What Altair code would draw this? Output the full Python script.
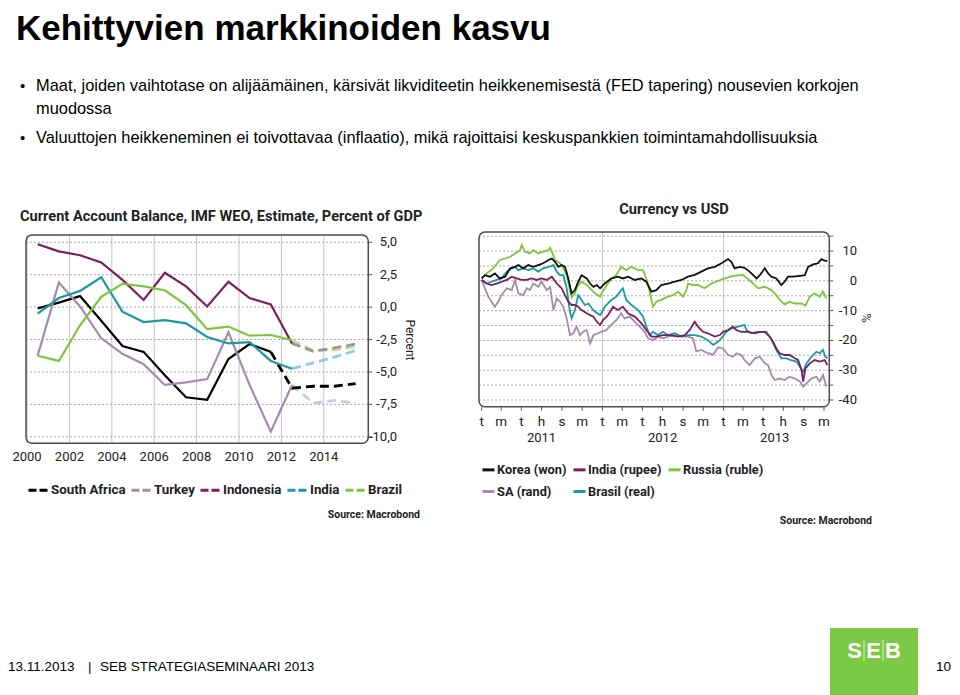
import altair as alt
import pandas as pd

# ---------------- slide texts ----------------
slide_title = "Kehittyvien markkinoiden kasvu"
bullet_1a = "Maat, joiden vaihtotase on alijäämäinen, kärsivät likviditeetin heikkenemisestä (FED tapering) nousevien korkojen"
bullet_1b = "muodossa"
bullet_2 = "Valuuttojen heikkeneminen ei toivottavaa (inflaatio), mikä rajoittaisi keskuspankkien toimintamahdollisuuksia"
footer_date = "13.11.2013"
footer_event = "SEB STRATEGIASEMINAARI 2013"
page_number = "10"

# ---------------- left chart data ----------------
ca_title = "Current Account Balance, IMF WEO, Estimate, Percent of GDP"
ca_countries = ["South Africa", "Turkey", "Indonesia", "India", "Brazil"]
ca_colors = ["#000000", "#a48bac", "#7b1f5e", "#1c97a6", "#7cc63a"]
ca_fc_colors = ["#000000", "#d5c8db", "#a98ea3", "#8ccfdc", "#bde38f"]
ca_years = [2000.5, 2001.5, 2002.5, 2003.5, 2004.5, 2005.5, 2006.5,
            2007.5, 2008.5, 2009.5, 2010.5, 2011.5, 2012.5]
ca_actual = {
    "South Africa": [-0.1, 0.35, 0.85, -1.05, -3.0, -3.45, -5.25, -6.95, -7.15, -4.0, -2.85, -3.45],
    "Turkey": [-3.75, 1.9, 0.05, -2.4, -3.6, -4.4, -6.0, -5.8, -5.55, -1.95, -6.0, -9.6, -6.0],
    "Indonesia": [4.85, 4.3, 4.0, 3.45, 2.1, 0.55, 2.65, 1.6, 0.05, 1.95, 0.7, 0.2, -2.8],
    "India": [-0.5, 0.7, 1.25, 2.3, -0.35, -1.15, -1.0, -1.25, -2.3, -2.8, -2.7, -4.15, -4.75],
    "Brazil": [-3.75, -4.15, -1.4, 0.8, 1.8, 1.6, 1.3, 0.15, -1.7, -1.5, -2.2, -2.15, -2.55],
}
ca_fc_years = {
    "South Africa": [2011.5, 2012.5, 2013.5, 2014.5, 2015.5],
    "Turkey": [2012.5, 2013.5, 2014.5, 2015.5],
    "Indonesia": [2012.5, 2013.5, 2014.5, 2015.5],
    "India": [2012.5, 2013.5, 2014.5, 2015.5],
    "Brazil": [2012.5, 2013.5, 2014.5, 2015.5],
}
ca_forecast = {
    "South Africa": [-3.45, -6.25, -6.1, -6.1, -5.9],
    "Turkey": [-6.0, -7.4, -7.2, -7.4],
    "Indonesia": [-2.8, -3.4, -3.15, -2.85],
    "India": [-4.75, -4.3, -3.85, -3.35],
    "Brazil": [-2.55, -3.35, -3.3, -3.05],
}
ca_ticks_x = [2000, 2002, 2004, 2006, 2008, 2010, 2012, 2014]
ca_ticks_x_labels = ["2000", "2002", "2004", "2006", "2008", "2010", "2012", "2014"]
ca_ticks_y = [-10, -7.5, -5, -2.5, 0, 2.5, 5]
ca_ticks_y_labels = ["-10,0", "-7,5", "-5,0", "-2,5", "0,0", "2,5", "5,0"]
ca_axis_title = "Percent"

# ---------------- right chart data ----------------
fx_title = "Currency vs USD"
fx_series = ["Korea (won)", "India (rupee)", "Russia (ruble)", "SA (rand)", "Brasil (real)"]
fx_colors = ["#111111", "#7b1f5e", "#7cc63a", "#a48bac", "#1c97a6"]
fx_start = "2011-01-01"  # day offsets below count from this date
korea = [(0,0.8),(10,1.9),(25,1.4),(40,2.5),(55,0.8),(71,1.4),(86,4.2),(101,4.7),(111,5.3),(126,4.2),(141,5.3),(156,4.7),(171,5.3),(186,5.9),(202,7.0),(212,7.5),(222,6.4),(232,4.7),(242,5.3),(252,4.7),(262,0.8),(272,-4.2),(282,-3.1),(292,-0.3),(302,1.9),(318,0.8),(328,-0.9),(338,-2.0),(348,-1.4),(358,-2.5),(372,-0.9),(392,0.8),(412,1.4),(427,0.8),(443,1.4),(463,0.3),(483,0.8),(498,-0.3),(513,-3.6),(528,-3.1),(543,-1.4),(563,-0.9),(584,-0.3),(604,0.3),(624,1.4),(644,2.0),(664,3.1),(684,4.2),(705,4.7),(725,5.9),(745,7.3),(755,6.4),(765,4.2),(780,4.7),(795,4.4),(810,3.1),(821,1.9),(831,0.8),(841,1.9),(856,4.2),(866,2.5),(876,1.4),(891,0.8),(906,-1.4),(916,-0.3),(926,1.4),(941,1.4),(962,1.7),(977,1.9),(987,4.7),(1002,5.5),(1017,5.9),(1027,7.3),(1037,6.8),(1045,6.6)]
russia = [(0,0.8),(15,2.5),(35,4.2),(55,7.0),(71,7.5),(86,8.1),(101,9.2),(116,10.3),(121,12.0),(131,9.8),(146,9.2),(156,10.3),(171,9.2),(186,9.8),(202,10.3),(207,11.1),(214,9.2),(222,7.0),(237,5.9),(247,4.2),(257,1.9),(267,-3.1),(272,-5.5),(282,-4.2),(292,-1.4),(302,-0.3),(318,-1.4),(333,-3.1),(343,-4.2),(358,-5.3),(362,-4.2),(372,-2.5),(392,0.8),(407,2.0),(422,4.7),(437,3.6),(453,4.7),(473,3.6),(488,3.6),(498,0.8),(508,-3.6),(518,-8.7),(528,-7.0),(543,-6.4),(563,-5.3),(579,-4.8),(594,-3.6),(609,-5.3),(619,-3.1),(624,-0.9),(639,-1.4),(654,-1.4),(674,-2.5),(695,-0.9),(715,0.0),(735,0.8),(760,1.7),(790,2.0),(815,-0.3),(836,-2.5),(856,-2.0),(876,-3.1),(891,-4.8),(901,-6.4),(916,-7.9),(931,-7.0),(947,-7.6),(967,-7.6),(979,-8.3),(992,-5.3),(1007,-4.2),(1022,-5.3),(1032,-3.6),(1042,-5.9)]
india = [(0,0.3),(15,-0.9),(30,-1.4),(45,-0.9),(60,-0.3),(76,0.3),(91,1.4),(106,0.8),(121,0.3),(136,0.3),(151,0.8),(166,0.3),(181,0.8),(197,0.3),(212,1.4),(227,-0.9),(242,-2.5),(252,-4.8),(262,-7.0),(272,-8.1),(282,-8.1),(292,-8.7),(302,-9.8),(318,-10.9),(328,-11.5),(338,-12.0),(348,-13.7),(358,-14.8),(367,-13.2),(382,-11.5),(397,-8.7),(412,-9.8),(427,-8.7),(443,-11.0),(463,-12.0),(483,-14.3),(498,-16.5),(513,-18.7),(528,-18.7),(548,-18.2),(569,-18.2),(594,-18.7),(614,-18.2),(629,-16.5),(644,-13.7),(654,-15.4),(669,-17.1),(684,-17.6),(705,-18.7),(720,-18.2),(730,-17.1),(745,-16.5),(760,-15.4),(770,-16.5),(785,-17.1),(805,-17.1),(826,-17.6),(841,-17.1),(856,-17.1),(871,-18.7),(881,-20.4),(891,-22.7),(901,-24.3),(916,-24.9),(931,-24.9),(947,-26.0),(957,-26.6),(967,-29.9),(972,-33.8),(979,-29.4),(992,-27.7),(1007,-26.6),(1022,-27.1),(1037,-26.6),(1045,-28.3)]
safrica = [(0,0.3),(10,-2.5),(20,-5.3),(30,-7.0),(40,-8.7),(50,-7.0),(60,-4.8),(76,-2.5),(91,-3.1),(101,0.3),(111,-4.2),(126,-4.8),(136,-2.5),(146,-3.1),(156,-0.9),(171,-2.0),(181,-0.3),(197,-3.1),(207,-2.0),(217,-9.8),(227,-5.9),(237,-7.0),(247,-8.7),(257,-12.6),(267,-18.2),(277,-17.6),(287,-15.4),(297,-18.2),(307,-17.1),(318,-16.5),(328,-21.0),(338,-18.2),(353,-17.6),(362,-17.1),(377,-16.5),(392,-14.8),(407,-13.2),(422,-10.9),(432,-12.6),(448,-12.0),(463,-13.7),(478,-15.4),(493,-17.1),(503,-19.3),(518,-19.9),(533,-18.7),(548,-19.3),(563,-18.7),(584,-18.2),(604,-18.7),(624,-18.7),(639,-19.3),(649,-23.7),(664,-23.2),(684,-24.3),(700,-24.8),(715,-22.3),(730,-22.7),(745,-24.9),(760,-25.5),(770,-24.3),(785,-24.9),(795,-26.6),(810,-28.3),(826,-26.0),(841,-25.5),(856,-27.7),(866,-28.3),(876,-31.6),(886,-33.3),(901,-32.8),(916,-33.3),(931,-32.2),(947,-32.8),(962,-33.8),(972,-35.5),(982,-34.4),(997,-32.8),(1012,-32.2),(1022,-33.8),(1032,-31.6),(1042,-35.5)]
brasil = [(0,0.3),(15,-0.9),(30,-0.3),(45,0.3),(60,0.8),(76,3.1),(91,4.2),(101,4.7),(111,3.6),(126,4.2),(141,3.6),(156,4.2),(171,3.1),(186,4.2),(202,4.7),(217,5.3),(227,3.1),(237,1.9),(247,1.9),(257,-2.5),(267,-10.4),(272,-12.6),(282,-9.8),(292,-4.8),(302,-6.4),(312,-8.1),(323,-7.6),(333,-9.2),(343,-10.4),(358,-11.5),(362,-10.9),(372,-8.7),(392,-6.4),(407,-5.3),(422,-3.1),(427,-2.5),(437,-6.4),(453,-8.1),(473,-9.8),(488,-12.0),(498,-15.4),(508,-18.2),(518,-17.1),(533,-18.2),(548,-17.1),(563,-18.2),(584,-17.6),(604,-18.7),(624,-18.2),(644,-18.2),(664,-18.7),(684,-19.9),(700,-21.5),(715,-20.4),(725,-19.3),(740,-17.1),(755,-16.0),(775,-15.4),(795,-14.8),(800,-16.5),(815,-17.6),(831,-17.1),(846,-17.1),(861,-17.1),(876,-19.9),(891,-23.2),(906,-26.0),(921,-26.0),(936,-26.6),(952,-27.1),(962,-28.8),(972,-30.5),(982,-27.7),(997,-25.5),(1012,-23.8),(1022,-24.3),(1032,-23.2),(1039,-25.5),(1045,-26.0)]
fx_year_dates = ["2011-07-01", "2012-07-01", "2013-06-05"]
fx_year_labels = ["2011", "2012", "2013"]
fx_year_breaks = ["2012-01-01", "2013-01-01"]
fx_tick_dates = ["2011-01-01", "2011-03-01", "2011-05-01", "2011-07-01", "2011-09-01", "2011-11-01",
                 "2012-01-01", "2012-03-01", "2012-05-01", "2012-07-01", "2012-09-01", "2012-11-01",
                 "2013-01-01", "2013-03-01", "2013-05-01", "2013-07-01", "2013-09-01", "2013-11-01"]
fx_tick_labels = ["t", "m", "t", "h", "s", "m"] * 3
fx_grid_y = [-40, -35, -30, -25, -20, -15, -10, -5, 0, 5, 10, 15]
fx_label_y = [-40, -30, -20, -10, 0, 10]
fx_label_y_text = ["-40", "-30", "-20", "-10", "0", "10"]
fx_axis_title = "%"
source_text = "Source: Macrobond"

# ---------------- build tables ----------------
rows = []
for c in ca_countries:
    for yr, v in zip(ca_years, ca_actual[c]):
        rows.append({"country": c, "year": yr, "value": v})
ca_df = pd.DataFrame(rows)

base = pd.Timestamp(fx_start)
rows = []
for name, series in [("SA (rand)", safrica), ("Brasil (real)", brasil), ("India (rupee)", india),
                     ("Russia (ruble)", russia), ("Korea (won)", korea)]:
    for d, v in series:
        rows.append({"series": name, "date": (base + pd.Timedelta(days=d)).strftime("%Y-%m-%d"), "value": v})
fx_df = pd.DataFrame(rows)

# ---------------- styling ----------------
FA = "Liberation Sans, Arial, sans-serif"
FC = "Roboto, Liberation Sans, sans-serif"
W, H = 944, 687
INK = "#222222"


def txt(s, x, y, size, weight="normal", font=FA, align="left", baseline="alphabetic", color="#000000", angle=0):
    return alt.Chart(pd.DataFrame({"t": [s]})).mark_text(
        align=align, baseline=baseline, fontSize=size, fontWeight=weight, font=font,
        color=color, angle=angle).encode(text="t:N", x=alt.value(x), y=alt.value(y))


# ---------------- left chart ----------------
LXD = [1999.95, 2016.1]
LYD = [-10.5, 5.56]
LX = alt.Scale(domain=LXD, range=[18, 360.3], nice=False, zero=False)
LY = alt.Scale(domain=LYD, range=[435.3, 227], nice=False, zero=False)
L_RIGHT, L_BOTTOM = 360.3, 435.3


def lx(field):
    return alt.X(field, type="quantitative", scale=LX, axis=None)


def ly(field):
    return alt.Y(field, type="quantitative", scale=LY, axis=None)


ygrid_df = pd.DataFrame({"v": ca_ticks_y, "label": ca_ticks_y_labels})
xgrid_df = pd.DataFrame({"v": ca_ticks_x, "label": ca_ticks_x_labels})

left_vgrid = alt.Chart(xgrid_df).mark_rule(color="#c4c4c4", strokeWidth=1).encode(
    x=lx("v"), y=alt.YDatum(LYD[0], type="quantitative", scale=LY, axis=None), y2=alt.Y2Datum(LYD[1]))
left_hgrid = alt.Chart(ygrid_df).mark_rule(color="#aaaaaa", strokeWidth=1, strokeDash=[2, 2]).encode(
    y=ly("v"), x=alt.XDatum(LXD[0], type="quantitative", scale=LX, axis=None), x2=alt.X2Datum(LXD[1]))
left_yticks = alt.Chart(ygrid_df).mark_rule(color="#555555", strokeWidth=1).encode(
    y=ly("v"), x=alt.value(L_RIGHT), x2=alt.value(L_RIGHT + 4))
left_ylabels = alt.Chart(ygrid_df).mark_text(align="right", baseline="middle", fontSize=13, font=FC, color=INK).encode(
    y=ly("v"), x=alt.value(389), text="label:N")
left_xlabels = alt.Chart(xgrid_df).mark_text(align="center", baseline="middle", fontSize=13, font=FC, color=INK).encode(
    x=lx("v"), y=alt.value(449), text="label:N")

left_lines = alt.Chart(ca_df).mark_line(strokeWidth=2.2).encode(
    x=lx("year"), y=ly("value"),
    color=alt.Color("country:N", scale=alt.Scale(domain=ca_countries, range=ca_colors),
                    legend=alt.Legend(orient="none", legendX=19, legendY=470, direction="horizontal",
                                      columns=5, title=None, symbolType="stroke", symbolDash=[8, 3],
                                      symbolSize=441, symbolStrokeWidth=3, labelFontSize=13.3,
                                      labelFontWeight="bold", labelFont=FC, labelColor=INK,
                                      columnPadding=-1, labelOffset=0)),
)
left_fc = []
for c, col in zip(ca_countries, ca_fc_colors):
    d = pd.DataFrame({"year": ca_fc_years[c], "value": ca_forecast[c]})
    left_fc.append(alt.Chart(d).mark_line(strokeWidth=2.8, strokeDash=[9, 5], color=col).encode(
        x=lx("year"), y=ly("value")))
left_frame = alt.Chart(pd.DataFrame({"f": [0]})).mark_rect(
    fillOpacity=0, stroke="#4d4d4d", strokeWidth=1.5, cornerRadius=6).encode(
    x=alt.XDatum(LXD[0], type="quantitative", scale=LX, axis=None),
    x2=alt.X2Datum(LXD[1]),
    y=alt.YDatum(LYD[1], type="quantitative", scale=LY, axis=None),
    y2=alt.Y2Datum(LYD[0]),
)
left = alt.layer(left_vgrid, left_hgrid, *left_fc[::-1], left_lines, left_frame,
                 left_yticks, left_ylabels, left_xlabels)

# ---------------- right chart ----------------
RXD = [alt.DateTime(year=2010, month=12, date=24), alt.DateTime(year=2013, month=11, date=17)]
RYD = [-42.25, 16.4]
RX = alt.Scale(domain=RXD, range=[471, 821.3], nice=False)
RY = alt.Scale(domain=RYD, range=[398.7, 224], nice=False, zero=False)
R_RIGHT, R_BOTTOM = 821.3, 398.7


def rx(field):
    return alt.X(field, type="temporal", scale=RX, axis=None)


def ry(field):
    return alt.Y(field, type="quantitative", scale=RY, axis=None)


fx_grid_df = pd.DataFrame({"v": fx_grid_y})
fx_lab_df = pd.DataFrame({"v": fx_label_y, "label": fx_label_y_text})
fx_tick_df = pd.DataFrame({"date": fx_tick_dates, "label": fx_tick_labels})

fx_hgrid = alt.Chart(fx_grid_df).mark_rule(color="#aaaaaa", strokeWidth=1, strokeDash=[2, 2]).encode(
    y=ry("v"), x=alt.XDatum(RXD[0], type="temporal", scale=RX, axis=None), x2=alt.X2Datum(RXD[1]))
fx_breaks = alt.Chart(pd.DataFrame({"date": fx_year_breaks})).mark_rule(color="#c4c4c4", strokeWidth=1).encode(
    x=rx("date"), y=alt.YDatum(RYD[1], type="quantitative", scale=RY, axis=None), y2=alt.Y2Datum(RYD[0]))
fx_yticks = alt.Chart(fx_grid_df).mark_rule(color="#555555", strokeWidth=1).encode(
    y=ry("v"), x=alt.value(R_RIGHT), x2=alt.value(R_RIGHT + 4))
fx_ylabels = alt.Chart(fx_lab_df).mark_text(align="right", baseline="middle", fontSize=13, font=FC, color=INK).encode(
    y=ry("v"), x=alt.value(849), text="label:N")
fx_xticks = alt.Chart(fx_tick_df).mark_rule(color="#555555", strokeWidth=1).encode(
    x=rx("date"), y=alt.value(R_BOTTOM), y2=alt.value(R_BOTTOM + 4))
fx_xlabels = alt.Chart(fx_tick_df).mark_text(align="center", baseline="middle", fontSize=13.5, font=FC, color=INK).encode(
    x=rx("date"), y=alt.value(414), text="label:N")
fx_years = alt.Chart(pd.DataFrame({"date": fx_year_dates, "label": fx_year_labels})).mark_text(
    fontSize=13, font=FC, baseline="middle", color=INK).encode(
    x=rx("date"), y=alt.value(430), text="label:N")

fx_lines = alt.Chart(fx_df).mark_line(strokeWidth=1.8).encode(
    x=rx("date"), y=ry("value"),
    color=alt.Color("series:N", scale=alt.Scale(domain=fx_series, range=fx_colors),
                    legend=alt.Legend(orient="none", legendX=473, legendY=454, direction="horizontal",
                                      columns=3, title=None, symbolType="stroke", symbolSize=144,
                                      symbolStrokeWidth=3, labelFontSize=12.8, labelFontWeight="bold",
                                      labelFont=FC, labelColor=INK,
                                      columnPadding=0, rowPadding=7, labelOffset=1)),
)
right_frame = alt.Chart(pd.DataFrame({"f": [0]})).mark_rect(
    fillOpacity=0, stroke="#4d4d4d", strokeWidth=1.5, cornerRadius=6).encode(
    x=alt.XDatum(RXD[0], type="temporal", scale=RX, axis=None),
    x2=alt.X2Datum(RXD[1]),
    y=alt.YDatum(RYD[1], type="quantitative", scale=RY, axis=None),
    y2=alt.Y2Datum(RYD[0]),
)
right = alt.layer(fx_hgrid, fx_breaks, fx_lines, right_frame, fx_yticks, fx_ylabels,
                  fx_xticks, fx_xlabels, fx_years)

# ---------------- slide decoration ----------------
header = [
    txt(slide_title, 8, 32, 35, weight="bold"),
    txt("•", 12, 83, 15),
    txt(bullet_1a, 28, 83, 16.4),
    txt(bullet_1b, 28, 106, 16.4),
    txt("•", 12, 135, 15),
    txt(bullet_2, 28, 135, 16.4),
    txt(ca_title, 12, 213, 14.6, weight="bold", font=FC, color=INK),
    txt(fx_title, 666, 206, 14.6, weight="bold", font=FC, align="center", color=INK),
    txt(ca_axis_title, 402, 332, 12, font=FC, align="center", baseline="middle", angle=90, color=INK),
    txt(fx_axis_title, 858, 310, 13, font=FC, align="center", baseline="middle", angle=90, color=INK),
    txt(source_text, 412, 510, 10.5, weight="bold", font=FC, align="right", color=INK),
    txt(source_text, 864, 516, 10.5, weight="bold", font=FC, align="right", color=INK),
]
logo_green = "#7cc945"
logo = [
    alt.Chart(pd.DataFrame({"f": [0]})).mark_rect(color=logo_green).encode(
        x=alt.value(822), x2=alt.value(910), y=alt.value(620), y2=alt.value(687)),
    txt("S", 846.5, 650, 22, weight="bold", align="center", color="#ffffff"),
    txt("E", 865.5, 650, 22, weight="bold", align="center", color="#ffffff"),
    txt("B", 885, 650, 22, weight="bold", align="center", color="#ffffff"),
    alt.Chart(pd.DataFrame({"f": [0]})).mark_rule(color="#d9f0c8", strokeWidth=1).encode(
        x=alt.value(856), y=alt.value(632), y2=alt.value(653)),
    alt.Chart(pd.DataFrame({"f": [0]})).mark_rule(color="#d9f0c8", strokeWidth=1).encode(
        x=alt.value(875), y=alt.value(632), y2=alt.value(653)),
]
footer = [
    txt(footer_date, 0, 663, 13.5),
    txt("|", 80, 663, 13.5),
    txt(footer_event, 92, 663, 13.5),
    txt(page_number, 943, 663, 13.5, align="right"),
]

chart = alt.layer(*header, left, right, *logo, *footer).resolve_scale(
    x="independent", y="independent", color="independent"
).properties(
    width=W, height=H, padding=0, autosize=alt.AutoSizeParams(type="none"),
    background="#ffffff",
).configure_view(stroke=None)

chart.save("out.html", embed_options={"renderer": "svg", "actions": False})
